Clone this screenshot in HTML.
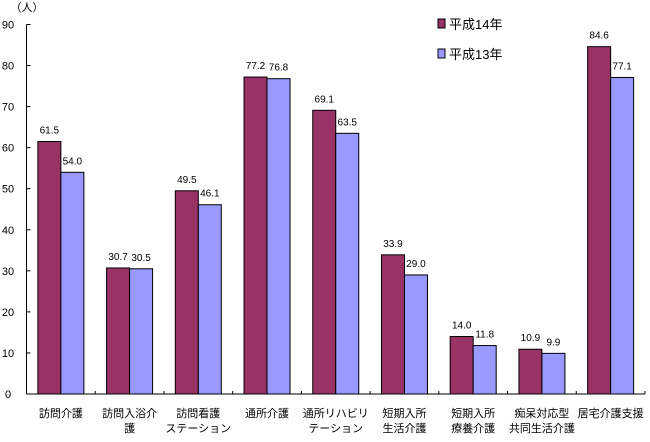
<!DOCTYPE html>
<html><head><meta charset="utf-8"><style>
body{margin:0;background:#fff;}
svg text{font-family:"Liberation Sans","Noto Sans CJK JP",sans-serif;}
</style></head><body>
<svg id="c" width="650" height="437" xmlns="http://www.w3.org/2000/svg"></svg>
<script>
const categories=[["訪問介護"],["訪問入浴介","護"],["訪問看護","ステーション"],["通所介護"],["通所リハビリ","テーション"],["短期入所","生活介護"],["短期入所","療養介護"],["痴呆対応型","共同生活介護"],["居宅介護支援"]];
const seriesH14=[61.5,30.7,49.5,77.2,69.1,33.9,14.0,10.9,84.6];
const seriesH13=[54.0,30.5,46.1,76.8,63.5,29.0,11.8,9.9,77.1];
const yTicks=[0,10,20,30,40,50,60,70,80,90];
const seriesNames=["平成14年","平成13年"];
const colors=["#993366","#9999FF"];
const svg=document.getElementById('c');
const NS="http://www.w3.org/2000/svg";
const x0=26.5,x1=645,y0=394,yTop=24.5,yMax=90;
const cw=(x1-x0)/categories.length;
const y=v=>y0-(v/yMax)*(y0-yTop);
const xc=i=>x0+cw*(i+0.5);
function mk(t,a,txt){const e=document.createElementNS(NS,t);for(const k in a)e.setAttribute(k,a[k]);if(txt!==undefined)e.textContent=txt;svg.appendChild(e);return e;}
let e;
e=mk('line',{x1:x0,y1:yTop,x2:x0,y2:y0,stroke:'#000'});


e=mk('line',{x1:x0,y1:y0,x2:x1,y2:y0,stroke:'#000'});


yTicks.forEach(v=>{
 mk('line',{x1:x0,y1:y(v),x2:x0+4,y2:y(v),stroke:'#000'});
 e=mk('text',{x:8,y:y(v)+4,'font-size':11,'text-anchor':'middle'},v);
 
 
});
for(let i=1;i<=categories.length;i++){mk('line',{x1:x0+cw*i,y1:y0,x2:x0+cw*i,y2:y0-3,stroke:'#000'});}
e=mk('text',{x:27,y:11,'font-size':11,'text-anchor':'middle'},'（人）');


const bw=23;
[seriesH14,seriesH13].forEach((s,si)=>{
 s.forEach((v,i)=>{
  const bx=xc(i)-bw+si*bw;
  e=mk('rect',{x:bx,y:y(v),width:bw,height:y0-y(v),fill:colors[si],stroke:'#000','stroke-width':1});
  
  
  e=mk('text',{x:bx+bw/2,y:y(v)-8,'font-size':10,'text-anchor':'middle','font-family':'Liberation Mono,monospace'},v.toFixed(1));
  
  
 });
});
categories.forEach((c,i)=>{
 c.forEach((ln,j)=>{
  e=mk('text',{x:xc(i),y:417+j*15,'font-size':11,'text-anchor':'middle'},ln);
  
  
 });
});
seriesNames.forEach((n,i)=>{
 e=mk('rect',{x:438,y:19+i*30,width:7,height:9,fill:colors[i],stroke:'#000'});
 
 
 e=mk('text',{x:449,y:29+i*30,'font-size':13},n);
 
 
});
</script>
</body></html>
